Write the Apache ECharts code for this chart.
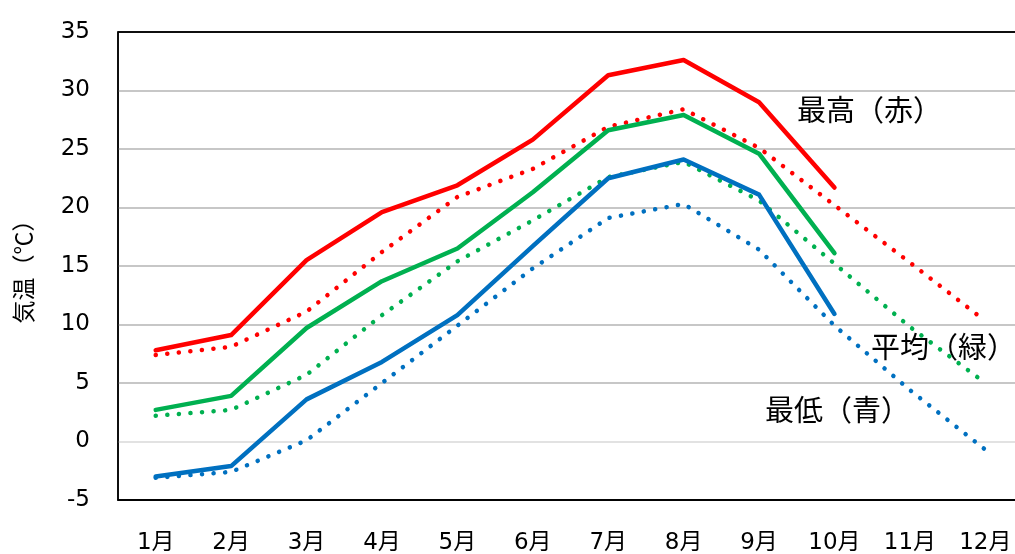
<!DOCTYPE html>
<html><head><meta charset="utf-8">
<script src="https://cdn.jsdelivr.net/npm/echarts@6/dist/echarts.min.js"></script>
<style>html,body{margin:0;padding:0;background:#fff}#c{width:1015px;height:554px}</style>
</head><body><div id="c"></div>
<script>
const months = ['1月','2月','3月','4月','5月','6月','7月','8月','9月','10月','11月','12月'];
const maxActual = [7.8, 9.1, 15.5, 19.6, 21.9, 25.8, 31.3, 32.6, 29.0, 21.7, null, null];
const maxNormal = [7.4, 8.1, 11.1, 16.2, 20.9, 23.3, 26.9, 28.4, 25.1, 20.2, 15.3, 10.3];
const avgActual = [2.7, 3.9, 9.7, 13.7, 16.5, 21.3, 26.6, 27.9, 24.6, 16.1, null, null];
const avgNormal = [2.2, 2.7, 5.7, 10.8, 15.4, 18.9, 22.6, 23.9, 20.6, 15.2, 9.8, 5.0];
const minActual = [-3.0, -2.1, 3.6, 6.8, 10.8, 16.7, 22.5, 24.1, 21.1, 10.9, null, null];
const minNormal = [-3.1, -2.6, 0.1, 5.0, 9.9, 14.8, 19.1, 20.3, 16.4, 9.9, 4.4, -0.7];
const yTitle = '気温（℃）';
const labelMax = '最高（赤）', labelAvg = '平均（緑）', labelMin = '最低（青）';

const RED = '#ff0000', GREEN = '#00b050', BLUE = '#0070c0';
const font = '"DejaVu Sans", "Noto Sans CJK JP", sans-serif';
function solid(name, data, color) {
  return {name, type:'line', data, symbol:'none', smooth:false, z:3,
    lineStyle:{color, width:4.5, cap:'round', join:'round'}};
}
function dotted(name, data, color) {
  return {name, type:'line', data, symbol:'none', smooth:false, z:2,
    lineStyle:{color, width:4.5, type:[0.1, 11.5], cap:'round'}};
}
const chart = echarts.init(document.getElementById('c'), null, {renderer:'canvas'});
chart.setOption({
  animation:false,
  backgroundColor:'#fff',
  grid:{left:118, top:32, width:905, height:468, outerBoundsMode:'none', containLabel:false,
    show:true, borderColor:'#000', borderWidth:1.5, backgroundColor:'transparent'},
  xAxis:{type:'category', data:months, boundaryGap:true,
    axisLine:{show:true, onZero:false, lineStyle:{color:'#000', width:1.5}}, axisTick:{show:false},
    axisLabel:{color:'#000', fontSize:23, fontFamily:font, margin:32}},
  yAxis:{type:'value', min:-5, max:35, interval:5,
    name:yTitle, nameLocation:'middle', nameRotate:90, nameGap:83,
    nameTextStyle:{color:'#000', fontSize:23, fontFamily:'"Noto Sans CJK JP", sans-serif'},
    axisLine:{show:true, lineStyle:{color:'#000', width:1.5}}, axisTick:{show:false},
    axisLabel:{color:'#000', fontSize:23, fontFamily:font, margin:28},
    splitLine:{show:true, lineStyle:{color:['#000','#d9d9d9','#b4b4b4','#b4b4b4','#b4b4b4','#b4b4b4','#b4b4b4','#b4b4b4','#000'], width:1.5}}},
  series:[
    dotted('最高平年', maxNormal, RED),
    dotted('平均平年', avgNormal, GREEN),
    dotted('最低平年', minNormal, BLUE),
    solid('最高', maxActual, RED),
    solid('平均', avgActual, GREEN),
    solid('最低', minActual, BLUE)
  ],
  graphic:[
    {type:'text', left:797, top:95, style:{text:labelMax, fill:'#000', font:'29px "Noto Sans CJK JP", serif'}},
    {type:'text', left:871, top:332, style:{text:labelAvg, fill:'#000', font:'29px "Noto Sans CJK JP", serif'}},
    {type:'text', left:765, top:395, style:{text:labelMin, fill:'#000', font:'29px "Noto Sans CJK JP", serif'}}
  ]
});
</script></body></html>
